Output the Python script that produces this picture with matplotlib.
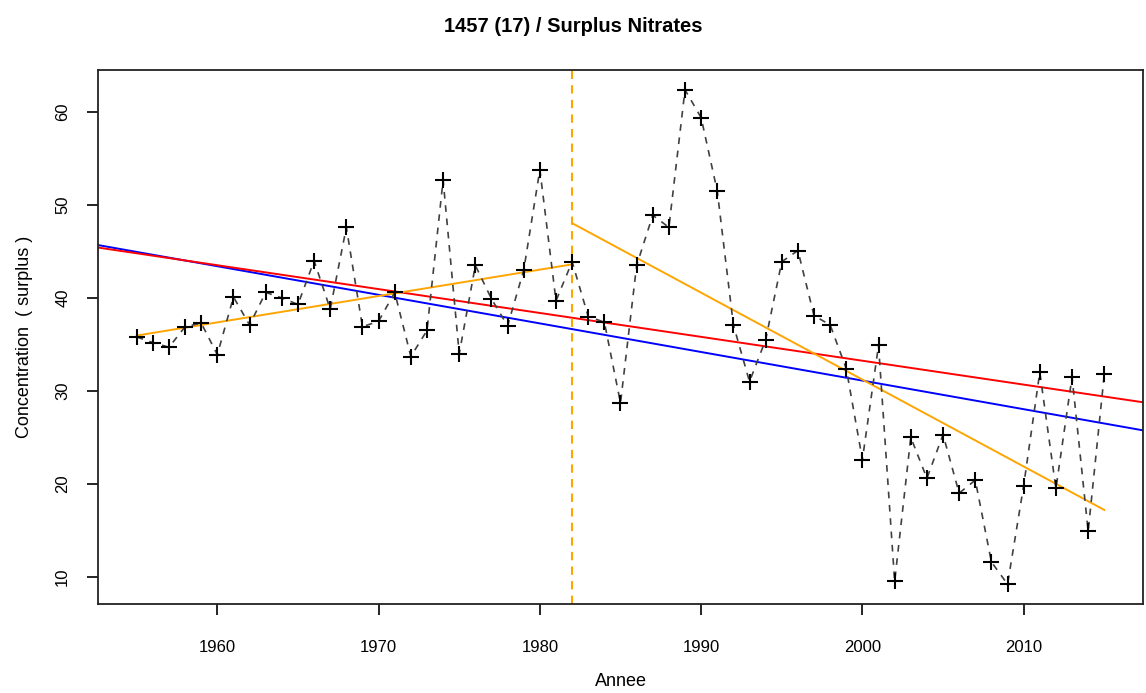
import numpy as np
import matplotlib
matplotlib.use("Agg")
import matplotlib.pyplot as plt

plt.rcParams['font.family'] = ['Liberation Sans', 'DejaVu Sans']

years = np.arange(1955, 2016)
values = [35.8, 35.2, 34.7, 36.9, 37.3, 33.9, 40.1, 37.1, 40.6, 40.0,
          39.3, 44.0, 38.8, 47.6, 36.9, 37.5, 40.6, 33.7, 36.5, 52.7,
          34.0, 43.5, 39.9, 37.0, 43.0, 53.8, 39.7, 43.9, 38.0, 37.4,
          28.7, 43.5, 48.9, 47.6, 62.4, 59.4, 51.5, 37.1, 31.0, 35.5,
          43.9, 45.1, 38.1, 37.1, 32.4, 22.6, 34.9, 9.5, 25.0, 20.6,
          25.3, 19.0, 20.4, 11.6, 9.2, 19.8, 32.0, 19.5, 31.5, 14.9,
          31.8]
break_year = 1982

x = years.astype(float)
y = np.array(values)

fig = plt.figure(figsize=(11.46, 6.93), dpi=100)
ax = fig.add_axes([98/1146, 89/693, (1143-98)/1146, (604-70)/693])

xmin, xmax = x.min(), x.max()
xr = xmax - xmin
ymin, ymax = y.min(), y.max()
yr = ymax - ymin
ax.set_xlim(xmin - 0.04*xr, xmax + 0.04*xr)
ax.set_ylim(ymin - 0.04*yr, ymax + 0.04*yr)
xl = np.array(ax.get_xlim())

# OLS (blue)
b1, b0 = np.polyfit(x, y, 1)
ax.plot(xl, b0 + b1*xl, color='#0000FF', lw=1.4, zorder=2)

# Sen slope (red)
i, j = np.triu_indices(len(x), 1)
slopes = (y[j] - y[i]) / (x[j] - x[i])
s = np.median(slopes)
icpt = np.median(y) - s*np.median(x)
ax.plot(xl, icpt + s*xl, color='#FF0000', lw=1.4, zorder=2)

# segment fits (orange)
for m in (x <= break_year, x >= break_year):
    a1, a0 = np.polyfit(x[m], y[m], 1)
    xs = np.array([x[m].min(), x[m].max()])
    ax.plot(xs, a0 + a1*xs, color='#FFA500', lw=1.4, zorder=2)

ax.axvline(break_year, color='#FFA500', lw=1.5, ls=(0, (4, 3)), zorder=2)

ax.plot(x, y, color='#404040', lw=1.2, ls=(0, (4, 4)), zorder=3)
ax.plot(x, y, ls='none', marker='+', ms=12, mew=1.5, color='black', zorder=4)

ax.set_xticks([1960, 1970, 1980, 1990, 2000, 2010])
ax.set_yticks([10, 20, 30, 40, 50, 60])
ax.tick_params(axis='both', direction='out', length=8, width=1.2, labelsize=12, colors='black')
ax.tick_params(axis='x', pad=18)
ax.tick_params(axis='y', pad=12)
for lab in ax.get_yticklabels():
    lab.set_rotation(90)
    lab.set_va('center')
for sp in ax.spines.values():
    sp.set_linewidth(1.3)
    sp.set_color('#222222')

ax.set_xlabel('Annee', fontsize=13, labelpad=13)
ax.set_ylabel('Concentration  ( surplus )', fontsize=13, labelpad=16)
fig.suptitle('1457 (17) / Surplus Nitrates', fontsize=14.5, fontweight='bold', y=1-27/693, va='center')

fig.savefig('out.png', dpi=100)
